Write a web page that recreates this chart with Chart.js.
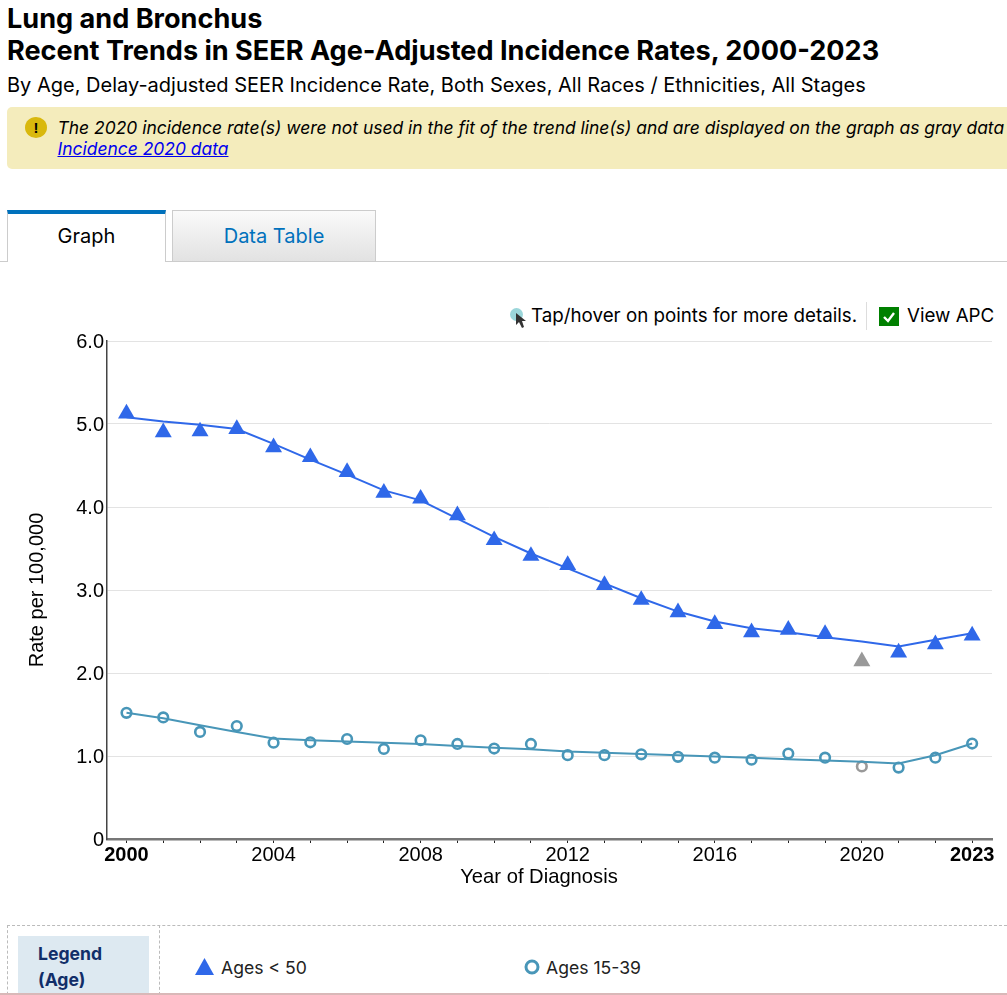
<!DOCTYPE html>
<html><head><meta charset="utf-8">
<style>
html,body{margin:0;padding:0;width:1007px;height:995px;overflow:hidden;background:#fff;font-family:Inter,sans-serif;color:#000}
.a{position:absolute;white-space:nowrap}
h1{margin:0;font-weight:700;font-size:27.1px;line-height:32px}
</style></head><body>
<h1 class="a" style="left:7px;top:3px">Lung and Bronchus<br>Recent Trends in SEER Age-Adjusted Incidence Rates, 2000-2023</h1>
<div class="a" style="left:7px;top:73px;font-size:20px;line-height:24px">By Age, Delay-adjusted SEER Incidence Rate, Both Sexes, All Races / Ethnicities, All Stages</div>
<div class="a" style="left:7px;top:107px;width:1010px;height:62px;background:#f4ecbc;border-radius:5px"></div>
<div class="a" style="left:25px;top:117px;width:22px;height:21px;border-radius:50%;background:#d9b80d;text-align:center;font:700 15px/21px 'Liberation Sans'">!</div>
<div class="a" style="left:57.5px;top:117px;font-size:17.44px;line-height:21px;font-style:italic">The 2020 incidence rate(s) were not used in the fit of the trend line(s) and are displayed on the graph as gray data points.<br><span style="color:#00e;text-decoration:underline">Incidence 2020 data</span></div>
<div class="a" style="left:0;top:261px;width:1007px;height:1px;background:#ccc"></div>
<div class="a" style="left:7px;top:210px;width:159px;height:52px;background:#fff;border:1px solid #ccc;border-top:4px solid #0071bc;border-bottom:none;box-sizing:border-box;text-align:center;font-size:20px;line-height:44px">Graph</div>
<div class="a" style="left:172px;top:210px;width:204px;height:52px;background:linear-gradient(#fafafa,#e2e2e2);border:1px solid #ccc;box-sizing:border-box;text-align:center;font-size:20px;line-height:50px;color:#0071bc">Data Table</div>
<div class="a" style="left:510px;top:308px;width:13px;height:13px;border-radius:50%;background:#9bd6da"></div>
<svg class="a" style="left:515px;top:312px" width="12" height="18"><path d="M1 1 L1 13 L4 10 L7 16 L9 15 L7 9 L11 9 Z" fill="#333"/></svg>
<div class="a" style="left:531px;top:304px;font-size:18.75px;line-height:24px">Tap/hover on points for more details.</div>
<div class="a" style="left:866px;top:302px;width:1px;height:28px;background:#ddd"></div>
<div class="a" style="left:879px;top:307px;width:20px;height:19px;background:#008000"></div>
<svg class="a" style="left:879px;top:307px" width="20" height="19"><path d="M5 10 L9 14 L15 6" fill="none" stroke="#fff" stroke-width="2.4"/></svg>
<div class="a" style="left:907px;top:304px;font-size:18.75px;line-height:24px">View APC</div>

<div class="a" style="left:0;top:320px;width:1007px;height:600px"><canvas id="c" width="1007" height="600" style="width:1007px;height:600px"></canvas></div>

<div class="a" style="left:7px;top:925px;width:1010px;height:80px;border:1px dashed #bbb;box-sizing:border-box"></div>
<div class="a" style="left:159px;top:925px;width:1px;height:70px;border-left:1px dashed #bbb"></div>
<div class="a" style="left:18px;top:936px;width:131px;height:60px;background:#dde9f1"></div>
<div class="a" style="left:38px;top:941px;font-weight:700;font-size:17.6px;line-height:26px;color:#112e69">Legend<br>(Age)</div>
<svg class="a" style="left:194px;top:957px" width="22" height="20"><path d="M10.5 1 L20 18 L1 18 Z" fill="#2f68e9"/></svg>
<div class="a" style="left:221px;top:956px;font-size:17.6px;line-height:24px;color:#222">Ages &lt; 50</div>
<svg class="a" style="left:523px;top:958px" width="18" height="18"><circle cx="9" cy="9" r="6" fill="#fff" stroke="#4896b8" stroke-width="3"/></svg>
<div class="a" style="left:546px;top:956px;font-size:17.6px;line-height:24px;color:#222">Ages 15-39</div>
<div class="a" style="left:0;top:993px;width:1007px;height:2px;background:#d9b8b8"></div>

<script src="https://cdn.jsdelivr.net/npm/chart.js@4"></script>
<script>
const years = [2000,2001,2002,2003,2004,2005,2006,2007,2008,2009,2010,2011,2012,2013,2014,2015,2016,2017,2018,2019,2020,2021,2022,2023];
const under50Rates = [5.125,4.90,4.91,4.94,4.72,4.60,4.42,4.17,4.10,3.90,3.60,3.41,3.30,3.06,2.88,2.73,2.59,2.49,2.52,2.47,2.14,2.245,2.345,2.45];
const under50Trend = [5.08,5.03,4.99,4.94,4.76,4.57,4.39,4.20,4.08,3.86,3.64,3.44,3.26,3.08,2.90,2.74,2.62,2.54,2.49,2.43,2.38,2.32,2.40,2.48];
const ages1539Rates = [1.52,1.465,1.29,1.36,1.16,1.165,1.205,1.085,1.19,1.145,1.09,1.145,1.01,1.01,1.02,0.99,0.98,0.955,1.03,0.98,0.875,0.86,0.98,1.15];
const ages1539Trend = [1.52,1.455,1.37,1.29,1.21,1.19,1.175,1.16,1.145,1.12,1.10,1.08,1.055,1.04,1.025,1.01,0.995,0.98,0.96,0.945,0.93,0.91,1.01,1.15];
const labelledYears = [2000,2004,2008,2012,2016,2020,2023];
const boldYears = [2000,2023];
const excludedYear = 2020;
const yTicks = [0,1,2,3,4,5,6];
const seriesNames = ['Ages < 50','Ages 15-39'];
const blue='#2f68e9', teal='#4896b8', gray='#999999';
const pts = a => years.map((y,i)=>({x:y,y:a[i]}));
const FONT='"Liberation Sans", Arial, sans-serif';
const markColor = base => ctx => (ctx.raw && ctx.raw.x===excludedYear) ? gray : base;
new Chart(document.getElementById('c'),{
 type:'line',
 data:{datasets:[
  {label:seriesNames[0]+' trend',data:pts(under50Trend),borderColor:blue,borderWidth:2,pointRadius:0,tension:0,order:1},
  {label:seriesNames[1]+' trend',data:pts(ages1539Trend),borderColor:teal,borderWidth:2,pointRadius:0,tension:0,order:1},
  {label:seriesNames[0],data:pts(under50Rates),showLine:false,pointStyle:'triangle',pointRadius:9.8,pointBorderWidth:0,pointBackgroundColor:markColor(blue),pointBorderColor:markColor(blue),order:3},
  {label:seriesNames[1],data:pts(ages1539Rates),showLine:false,pointStyle:'circle',pointRadius:4.8,pointBorderWidth:2.6,pointBackgroundColor:'rgba(255,255,255,0.6)',pointBorderColor:markColor(teal),order:2}
 ]},
 options:{
  responsive:false,animation:false,
  layout:{padding:{left:0,right:15,top:21,bottom:32}},
  plugins:{legend:{display:false},tooltip:{enabled:false}},
  scales:{
   x:{type:'linear',min:1999.47,max:2023.54,
    afterBuildTicks:ax=>{ax.ticks=years.map(v=>({value:v}));},
    afterFit:ax=>{ax.paddingLeft=0;ax.paddingRight=0;ax.height=49;},
    afterUpdate:ax=>{
      const orig=ax.drawTitle;
      ax.drawTitle=function(){const g=this.ctx;g.save();g.translate(-10.5,1.5);orig.call(this);g.restore();};
    },
    grid:{drawOnChartArea:false,drawTicks:true,tickLength:4,tickColor:'#222',tickWidth:1},
    border:{color:'#777',width:2.5},
    ticks:{autoSkip:false,maxRotation:0,padding:0,color:'#000',
      callback:v=>labelledYears.includes(v)?String(v):'',
      font:ctx=>({family:FONT,size:20,weight:boldYears.includes(ctx.tick&&ctx.tick.value)?'bold':'normal'})},
    title:{display:true,text:'Year of Diagnosis',color:'#000',font:{family:FONT,size:20.2},padding:{top:0,bottom:0}}
   },
   y:{min:0,max:6,
    afterBuildTicks:ax=>{ax.ticks=yTicks.map(v=>({value:v}));},
    afterUpdate:ax=>{
      const orig=ax.drawLabels;
      ax.drawLabels=function(a){const g=this.ctx;g.save();g.translate(0,0.5);orig.call(this,a);g.restore();};
    },
    grid:{color:'#e3e3e3',lineWidth:1,drawTicks:false},
    border:{color:'#444',width:1.5},
    ticks:{padding:3,color:'#000',font:{family:FONT,size:20},callback:v=>v===0?'0':v.toFixed(1)},
    title:{display:true,text:'Rate per 100,000',color:'#000',font:{family:FONT,size:20},padding:{top:25,bottom:0}},
    afterFit:ax=>{ax.width=107;}
   }
  }
 }
});
</script>
</body></html>
